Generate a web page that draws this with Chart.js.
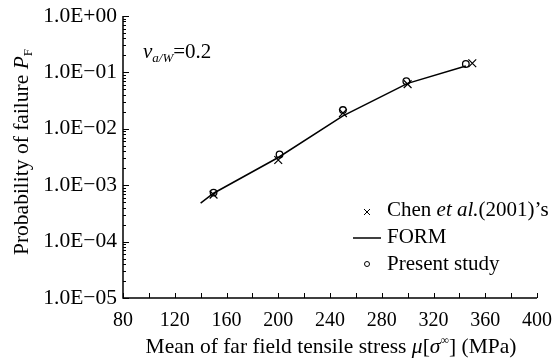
<!DOCTYPE html>
<html>
<head>
<meta charset="utf-8">
<script src="https://cdn.jsdelivr.net/npm/chart.js@4/dist/chart.umd.min.js"></script>
<style>
  html, body { margin: 0; padding: 0; background: #fff; }
  #wrap { width: 553px; height: 363px; }
</style>
</head>
<body>
<div id="wrap"><canvas id="chart" width="553" height="363"></canvas></div>
<script>
// axis ticks
const xTicks = [80, 120, 160, 200, 240, 280, 320, 360, 400];
const yTicks = [1e-5, 1e-4, 1e-3, 1e-2, 1e-1, 1];
const yLabels = ['1.0E\u221205', '1.0E\u221204', '1.0E\u221203', '1.0E\u221202', '1.0E\u221201', '1.0E+00'];

// Chen et al. (2001)
const chenX = [150, 200, 250, 300, 350];
const chenY = [6.8e-4, 2.8e-3, 1.9e-2, 6.2e-2, 0.145];
// Present study
const presentX = [150, 201, 250, 299, 345];
const presentY = [7.4e-4, 3.5e-3, 2.15e-2, 7.0e-2, 0.141];
// FORM
const formX = [140, 150, 200, 250, 300, 345];
const formY = [4.8e-4, 7.2e-4, 3.1e-3, 1.7e-2, 6.4e-2, 0.13];

const SERIF = '"Liberation Serif", "Times New Roman", serif';

function pts(xs, ys) {
  return xs.map((v, i) => ({ x: v, y: ys[i] }));
}

// draw a row of text pieces with different fonts
function drawRuns(ctx, runs, x, y, align) {
  let total = 0;
  runs.forEach(r => { ctx.font = r.font; total += ctx.measureText(r.t).width; });
  let cx = align === 'center' ? x - total / 2 : x;
  ctx.textAlign = 'left';
  ctx.textBaseline = 'alphabetic';
  runs.forEach(r => {
    ctx.font = r.font;
    ctx.fillText(r.t, cx, y + (r.dy || 0));
    cx += ctx.measureText(r.t).width;
  });
}

const decor = {
  id: 'decor',
  afterDraw(chart) {
    const { ctx, chartArea: a, scales: { x, y } } = chart;
    ctx.save();
    ctx.strokeStyle = '#000';
    ctx.fillStyle = '#000';
    ctx.lineWidth = 1.5;

    // axis lines
    ctx.beginPath();
    ctx.moveTo(a.left, a.top);
    ctx.lineTo(a.left, a.bottom);
    ctx.lineTo(a.right, a.bottom);
    ctx.stroke();

    // x ticks, every 20, pointing inwards
    ctx.lineWidth = 1;
    ctx.beginPath();
    for (let v = 80; v <= 400; v += 20) {
      const px = Math.round(x.getPixelForValue(v)) + 0.5;
      ctx.moveTo(px, a.bottom);
      ctx.lineTo(px, a.bottom - 5);
    }
    // y ticks, major and minor
    for (let e = -5; e <= 0; e++) {
      const py = Math.round(y.getPixelForValue(Math.pow(10, e))) + 0.5;
      ctx.moveTo(a.left, py);
      ctx.lineTo(a.left + 6, py);
      if (e < 0) {
        for (let m = 2; m <= 9; m++) {
          const q = Math.round(y.getPixelForValue(m * Math.pow(10, e))) + 0.5;
          ctx.moveTo(a.left, q);
          ctx.lineTo(a.left + 3, q);
        }
      }
    }
    ctx.stroke();

    const f21 = '21px ' + SERIF;
    const i21 = 'italic 21px ' + SERIF;
    const i13 = 'italic 13px ' + SERIF;
    const ft = '21.5px ' + SERIF;
    const it = 'italic 21.5px ' + SERIF;

    // annotation
    drawRuns(ctx, [
      { t: 'v', font: i21 },
      { t: 'a/W', font: i13, dy: 4 },
      { t: '=0.2', font: f21 }
    ], 143, 58, 'left');

    // legend
    ctx.lineWidth = 1;
    ctx.beginPath();
    ctx.moveTo(364, 209); ctx.lineTo(370, 215);
    ctx.moveTo(370, 209); ctx.lineTo(364, 215);
    ctx.stroke();
    drawRuns(ctx, [
      { t: 'Chen ', font: f21 },
      { t: 'et al.', font: i21 },
      { t: '(2001)\u2019s', font: f21 }
    ], 387, 216, 'left');

    ctx.lineWidth = 1.5;
    ctx.beginPath();
    ctx.moveTo(353, 238); ctx.lineTo(381, 238);
    ctx.stroke();
    drawRuns(ctx, [{ t: 'FORM', font: f21 }], 387, 243, 'left');

    ctx.lineWidth = 1;
    ctx.beginPath();
    ctx.arc(367, 264, 2.5, 0, Math.PI * 2);
    ctx.stroke();
    drawRuns(ctx, [{ t: 'Present study', font: f21 }], 387, 270, 'left');

    // x title
    drawRuns(ctx, [
      { t: 'Mean of far field tensile stress ', font: ft },
      { t: '\u03bc', font: it },
      { t: '[', font: ft },
      { t: '\u03c3', font: it },
      { t: '\u221e', font: '12px ' + SERIF, dy: -9 },
      { t: '] (MPa)', font: ft }
    ], 331, 353, 'center');

    // y title
    ctx.translate(28, 152);
    ctx.rotate(-Math.PI / 2);
    drawRuns(ctx, [
      { t: 'Probability of failure ', font: ft },
      { t: 'P', font: it },
      { t: 'F', font: '13px ' + SERIF, dy: 4 }
    ], 0, 0, 'center');

    ctx.restore();
  }
};

new Chart(document.getElementById('chart'), {
  type: 'scatter',
  data: {
    datasets: [
      {
        label: 'FORM',
        data: pts(formX, formY),
        showLine: true,
        borderColor: '#000',
        borderWidth: 1.5,
        pointRadius: 0,
        tension: 0
      },
      {
        label: "Chen et al.(2001)'s",
        data: pts(chenX, chenY),
        pointStyle: 'crossRot',
        pointRadius: 5.5,
        borderColor: '#000',
        borderWidth: 1.2
      },
      {
        label: 'Present study',
        data: pts(presentX, presentY),
        pointStyle: 'circle',
        pointRadius: 3.3,
        borderColor: '#000',
        backgroundColor: 'rgba(0,0,0,0)',
        borderWidth: 1.3
      }
    ]
  },
  options: {
    responsive: false,
    animation: false,
    devicePixelRatio: 1,
    layout: { padding: { left: 0, right: 16, top: 16, bottom: 0 } },
    plugins: { legend: { display: false }, tooltip: { enabled: false } },
    scales: {
      x: {
        type: 'linear',
        min: 80,
        max: 400,
        grid: { display: false, drawTicks: false },
        border: { display: false },
        afterBuildTicks: s => { s.ticks = xTicks.map(v => ({ value: v })); },
        afterFit: s => { s.height = 65; s.paddingLeft = 0; s.paddingRight = 0; },
        ticks: {
          color: '#000',
          padding: 11,
          maxRotation: 0,
          font: { family: SERIF, size: 20 }
        }
      },
      y: {
        type: 'logarithmic',
        min: 1e-5,
        max: 1,
        grid: { display: false, drawTicks: false },
        border: { display: false },
        afterBuildTicks: s => { s.ticks = yTicks.map(v => ({ value: v })); },
        afterFit: s => { s.width = 123; s.paddingTop = 0; s.paddingBottom = 0; },
        ticks: {
          color: '#000',
          padding: 6,
          font: { family: SERIF, size: 21.5 },
          callback: v => yLabels[yTicks.indexOf(v)]
        }
      }
    }
  },
  plugins: [decor]
});
</script>
</body>
</html>
